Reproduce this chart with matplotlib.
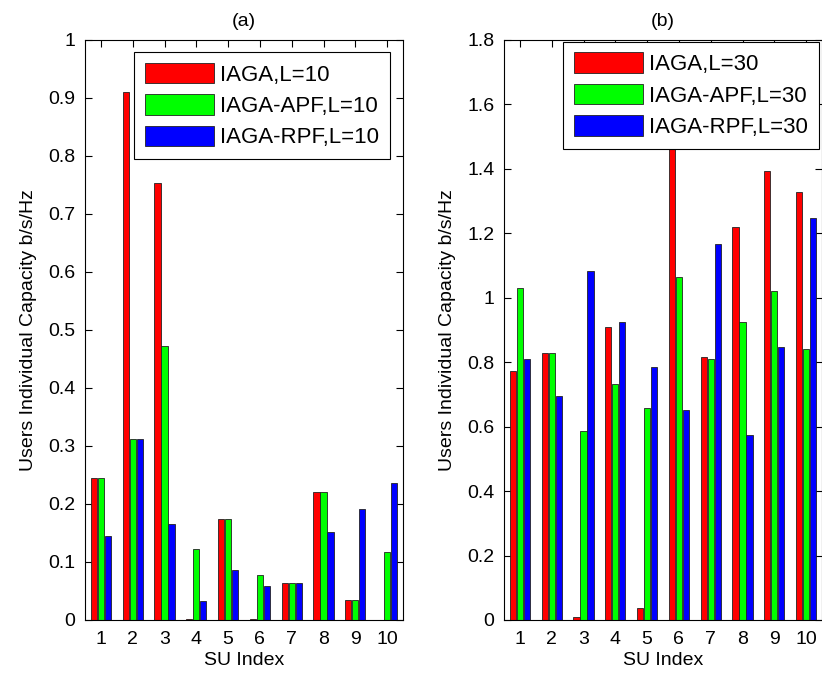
import matplotlib

matplotlib.use("Agg")
import matplotlib.pyplot as plt
import matplotlib.ticker as mticker
import numpy as np

plt.rcParams["font.family"] = ["Liberation Sans", "DejaVu Sans"]

su_index = [1, 2, 3, 4, 5, 6, 7, 8, 9, 10]

# L=10 panel (a)
iaga_l10 = [0.245, 0.911, 0.753, 0.002, 0.174, 0.002, 0.064, 0.221, 0.034, 0.0]
apf_l10 = [0.245, 0.312, 0.473, 0.122, 0.174, 0.078, 0.064, 0.221, 0.034, 0.118]
rpf_l10 = [0.145, 0.312, 0.166, 0.032, 0.087, 0.058, 0.064, 0.151, 0.192, 0.236]

# L=30 panel (b)
iaga_l30 = [0.774, 0.830, 0.009, 0.910, 0.036, 1.62, 0.816, 1.221, 1.394, 1.327]
apf_l30 = [1.031, 0.830, 0.588, 0.731, 0.657, 1.063, 0.810, 0.926, 1.021, 0.842]
rpf_l30 = [0.810, 0.694, 1.083, 0.926, 0.784, 0.651, 1.168, 0.574, 0.848, 1.247]

colors = ["#ff0000", "#00ff00", "#0000ff"]
offsets = [-0.22, 0.0, 0.22]
bar_w = 0.19

fig = plt.figure(figsize=(8.22, 6.78), dpi=100)
ax_a = fig.add_axes([85 / 822, 58 / 678, 318 / 822, 580 / 678])
ax_b = fig.add_axes([504 / 822, 58 / 678, 318 / 822, 580 / 678])


def draw(ax, series, labels, ymax, ystep, title, leg_anchor):
    x = np.array(su_index)
    for vals, col, off, lab in zip(series, colors, offsets, labels):
        ax.bar(x + off, vals, width=bar_w, color=col, edgecolor="#222222",
               linewidth=0.6, label=lab)
    ax.set_axisbelow(True)  # bars cover the inward ticks, like MATLAB
    ax.set_xlim(0.5, 10.5)
    ax.set_ylim(0, ymax)
    ax.set_xticks(su_index)
    ax.set_yticks(np.arange(0, ymax + ystep / 2, ystep))
    ax.yaxis.set_major_formatter(mticker.FormatStrFormatter("%g"))
    ax.tick_params(direction="in", top=True, right=True, labelsize=14,
                   length=5, width=0.8)
    ax.tick_params(axis="x", pad=8)
    ax.tick_params(axis="y", pad=7)
    for s in ax.spines.values():
        s.set_linewidth(0.8)
    ax.set_xlabel("SU Index", fontsize=14, labelpad=3)
    ax.set_ylabel("Users Individual Capacity b/s/Hz", fontsize=14, labelpad=8)
    ax.set_title(title, fontsize=14, pad=10)
    leg = ax.legend(loc="upper left", bbox_to_anchor=leg_anchor, borderaxespad=0,
                    fontsize=16, handlelength=3.1, handleheight=1.05,
                    handletextpad=0.3, labelspacing=0.38, fancybox=False,
                    framealpha=1, edgecolor="black", borderpad=0.48)
    leg.get_frame().set_linewidth(0.8)


draw(ax_a, [iaga_l10, apf_l10, rpf_l10],
     ["IAGA,L=10", "IAGA-APF,L=10", "IAGA-RPF,L=10"], 1.0, 0.1, "(a)",
     (0.154, 0.979))
draw(ax_b, [iaga_l30, apf_l30, rpf_l30],
     ["IAGA,L=30", "IAGA-APF,L=30", "IAGA-RPF,L=30"], 1.8, 0.2, "(b)",
     (0.186, 0.997))

fig.savefig("out.png", dpi=100)
plt.close(fig)
